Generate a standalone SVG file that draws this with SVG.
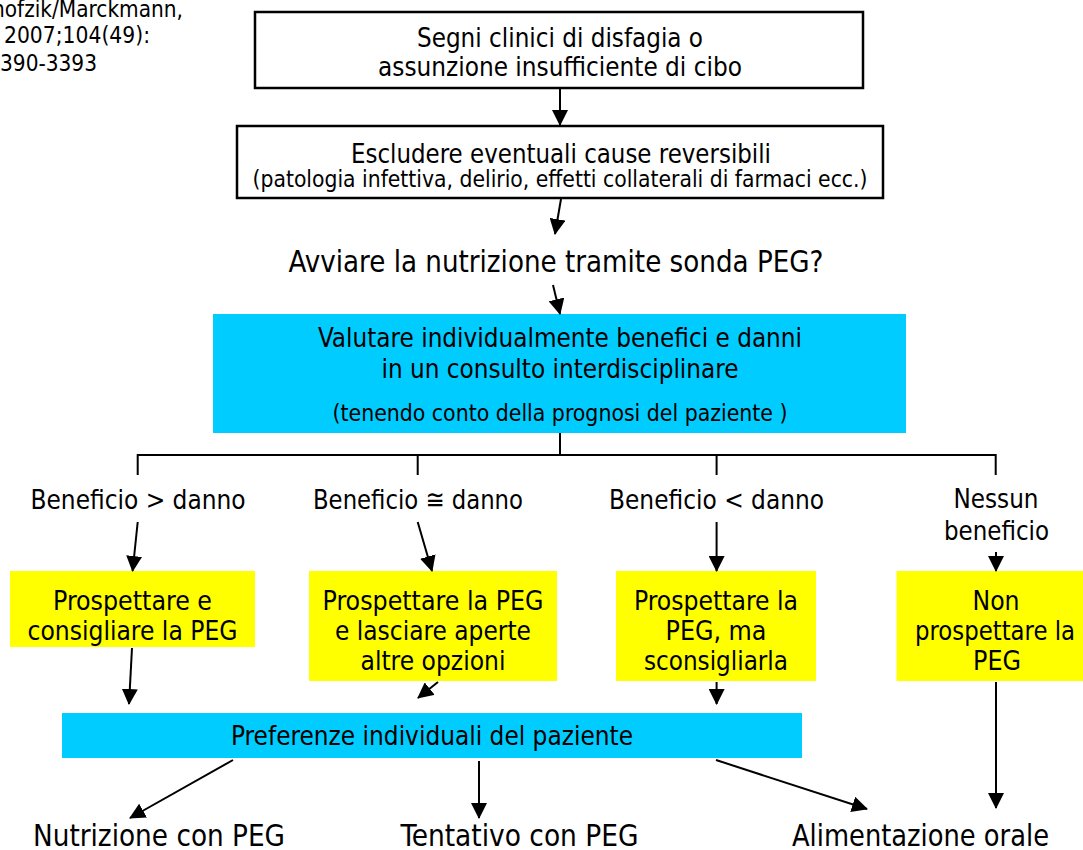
<svg xmlns="http://www.w3.org/2000/svg" width="1083" height="850" viewBox="0 0 1083 850">
<style>
text{font-family:"DejaVu Sans Condensed","DejaVu Sans",sans-serif;fill:#000}
.c{text-anchor:middle}
.f23{font-size:23px}
.f27{font-size:27px}
.f30{font-size:30px}
.box{fill:#fff;stroke:#000;stroke-width:2.5}
.cyan{fill:#00CCFF}
.yel{fill:#FFFF00}
.ln{stroke:#000;stroke-width:2;fill:none}
.ar{stroke:#000;stroke-width:2;fill:none;marker-end:url(#ah)}
</style>
<defs>
<marker id="ah" viewBox="0 0 16 16" refX="15" refY="8" markerWidth="16" markerHeight="16" markerUnits="userSpaceOnUse" orient="auto">
<path d="M0,0 L16,8 L0,16 z" fill="#000"/>
</marker>
</defs>
<rect width="1083" height="850" fill="#fff"/>

<g id="citation">
<text class="f23" x="-8" y="17" textLength="191" lengthAdjust="spacingAndGlyphs">hofzik/Marckmann,</text>
<text class="f23" x="4" y="43" textLength="146" lengthAdjust="spacingAndGlyphs">2007;104(49):</text>
<text class="f23" x="0" y="71" textLength="97" lengthAdjust="spacingAndGlyphs">390-3393</text>
</g>

<g id="n1">
<rect class="box" x="255" y="12" width="608" height="76"/>
<text class="f27 c" x="560" y="47" textLength="286" lengthAdjust="spacingAndGlyphs">Segni clinici di disfagia o</text>
<text class="f27 c" x="560" y="76" textLength="364" lengthAdjust="spacingAndGlyphs">assunzione insufficiente di cibo</text>
</g>

<g id="n2">
<rect class="box" x="237" y="126" width="646" height="72"/>
<text class="f27 c" x="561" y="163" textLength="420" lengthAdjust="spacingAndGlyphs">Escludere eventuali cause reversibili</text>
<text class="f23 c" x="560" y="187" textLength="615" lengthAdjust="spacingAndGlyphs">(patologia infettiva, delirio, effetti collaterali di farmaci ecc.)</text>
</g>

<g id="n3">
<text class="f30 c" x="556" y="272" textLength="535" lengthAdjust="spacingAndGlyphs">Avviare la nutrizione tramite sonda PEG?</text>
</g>

<g id="n4">
<rect class="cyan" x="213" y="314" width="693" height="119"/>
<text class="f27 c" x="560" y="347" textLength="484" lengthAdjust="spacingAndGlyphs">Valutare individualmente benefici e danni</text>
<text class="f27 c" x="560" y="378" textLength="357" lengthAdjust="spacingAndGlyphs">in un consulto interdisciplinare</text>
<text class="f23 c" x="560" y="421" textLength="455" lengthAdjust="spacingAndGlyphs">(tenendo conto della prognosi del paziente )</text>
</g>

<g id="l1"><text class="f27 c" x="138" y="509" textLength="215" lengthAdjust="spacingAndGlyphs">Beneficio &gt; danno</text></g>
<g id="l2"><text class="f27 c" x="418" y="509" textLength="210" lengthAdjust="spacingAndGlyphs">Beneficio ≅ danno</text></g>
<g id="l3"><text class="f27 c" x="716.5" y="509" textLength="215" lengthAdjust="spacingAndGlyphs">Beneficio &lt; danno</text></g>
<g id="l4">
<text class="f27 c" x="996" y="508" textLength="85" lengthAdjust="spacingAndGlyphs">Nessun</text>
<text class="f27 c" x="996.5" y="540" textLength="105" lengthAdjust="spacingAndGlyphs">beneficio</text>
</g>

<g id="y1">
<rect class="yel" x="10" y="571" width="245" height="76"/>
<text class="f27 c" x="132.5" y="610" textLength="159" lengthAdjust="spacingAndGlyphs">Prospettare e</text>
<text class="f27 c" x="132.5" y="640" textLength="210" lengthAdjust="spacingAndGlyphs">consigliare la PEG</text>
</g>
<g id="y2">
<rect class="yel" x="309" y="571" width="248" height="110"/>
<text class="f27 c" x="433" y="610" textLength="221" lengthAdjust="spacingAndGlyphs">Prospettare la PEG</text>
<text class="f27 c" x="433" y="640" textLength="196" lengthAdjust="spacingAndGlyphs">e lasciare aperte</text>
<text class="f27 c" x="433" y="670" textLength="145" lengthAdjust="spacingAndGlyphs">altre opzioni</text>
</g>
<g id="y3">
<rect class="yel" x="616" y="571" width="200" height="110"/>
<text class="f27 c" x="716" y="610" textLength="164" lengthAdjust="spacingAndGlyphs">Prospettare la</text>
<text class="f27 c" x="716" y="640" textLength="101" lengthAdjust="spacingAndGlyphs">PEG, ma</text>
<text class="f27 c" x="716" y="670" textLength="144" lengthAdjust="spacingAndGlyphs">sconsigliarla</text>
</g>
<g id="y4">
<rect class="yel" x="896.5" y="571" width="200" height="110"/>
<text class="f27 c" x="996" y="610" textLength="47" lengthAdjust="spacingAndGlyphs">Non</text>
<text class="f27 c" x="995" y="640" textLength="160" lengthAdjust="spacingAndGlyphs">prospettare la</text>
<text class="f27 c" x="997" y="670" textLength="48" lengthAdjust="spacingAndGlyphs">PEG</text>
</g>

<g id="n5">
<rect class="cyan" x="62" y="713" width="740" height="45"/>
<text class="f27 c" x="432" y="745" textLength="402" lengthAdjust="spacingAndGlyphs">Preferenze individuali del paziente</text>
</g>

<g id="o1"><text class="f30 c" x="159" y="846" textLength="252" lengthAdjust="spacingAndGlyphs">Nutrizione con PEG</text></g>
<g id="o2"><text class="f30 c" x="519.5" y="846" textLength="238" lengthAdjust="spacingAndGlyphs">Tentativo con PEG</text></g>
<g id="o3"><text class="f30 c" x="920.5" y="846" textLength="257" lengthAdjust="spacingAndGlyphs">Alimentazione orale</text></g>

<g id="connectors">
<line class="ar" x1="560" y1="89" x2="560" y2="125"/>
<line class="ar" x1="561" y1="199" x2="555" y2="234"/>
<line class="ar" x1="553" y1="285" x2="560" y2="314"/>
<polyline class="ln" points="560,433 560,455"/>
<line class="ln" x1="137.7" y1="455" x2="995.7" y2="455"/>
<line class="ln" x1="137.7" y1="454" x2="137.7" y2="475"/>
<line class="ln" x1="417.7" y1="454" x2="417.7" y2="475"/>
<line class="ln" x1="716.6" y1="454" x2="716.6" y2="475"/>
<line class="ln" x1="995.7" y1="454" x2="995.7" y2="475"/>
<line class="ar" x1="137.7" y1="522" x2="132.6" y2="571"/>
<line class="ar" x1="417.7" y1="522" x2="432" y2="571"/>
<line class="ar" x1="716.6" y1="522" x2="716.6" y2="571"/>
<line class="ar" x1="996" y1="552" x2="996" y2="571"/>
<line class="ar" x1="132" y1="648" x2="129" y2="704"/>
<line class="ar" x1="438" y1="682" x2="418" y2="698"/>
<line class="ar" x1="716.6" y1="682" x2="716.6" y2="704"/>
<line class="ar" x1="996" y1="682" x2="996" y2="808"/>
<line class="ar" x1="233" y1="760" x2="130" y2="818"/>
<line class="ar" x1="479" y1="761" x2="479" y2="818"/>
<line class="ar" x1="716" y1="760" x2="867" y2="809"/>
</g>
</svg>
